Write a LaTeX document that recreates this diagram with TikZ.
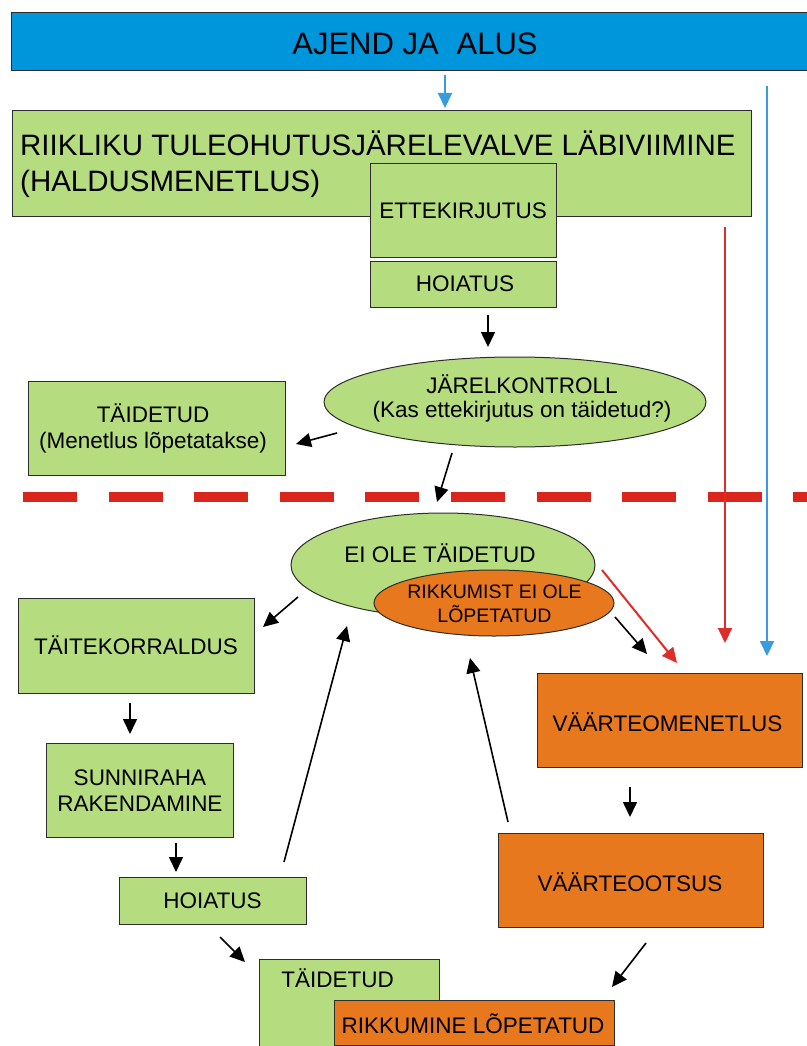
\documentclass[tikz,border=0pt]{standalone}
\usepackage{fontspec}
\setmainfont{Liberation Sans}
\usetikzlibrary{shapes.geometric,arrows.meta}
\definecolor{gfill}{RGB}{181,220,126}
\definecolor{ofill}{RGB}{232,120,30}
\definecolor{bfill}{RGB}{0,150,219}
\definecolor{dashred}{RGB}{218,37,29}
\definecolor{bline}{RGB}{55,155,222}
\definecolor{rline}{RGB}{222,45,40}
\definecolor{edge}{RGB}{45,45,45}
\begin{document}
\begin{tikzpicture}[x=1pt,y=-1pt,
  box/.style={draw=edge, line width=1pt, rectangle, inner sep=0pt, outer sep=0pt, anchor=north west},
  gbox/.style={box, fill=gfill},
  obox/.style={box, fill=ofill},
  ell/.style={draw=edge, line width=1pt, ellipse, inner sep=0pt, outer sep=0pt},
  txt/.style={inner sep=0pt, anchor=base, font=\fontsize{22.5}{27}\selectfont},
  bigtxt/.style={inner sep=0pt, font=\fontsize{29.5}{36}\selectfont},
  smalltxt/.style={txt, font=\fontsize{19.5}{23}\selectfont},
  arr/.style={-{Triangle[length=15pt,width=14pt]}, line width=1.6pt},
  barr/.style={arr, draw=bline, fill=bline, line width=2pt},
  rarr/.style={arr, draw=rline, fill=rline, line width=2pt}
]
\useasboundingbox (0,0) rectangle (806,1046);
\fill[white] (0,0) rectangle (806,1046);

% top bar
\node[box, fill=bfill, minimum width=810pt, minimum height=58pt] (ajend) at (11,13) {};
\node[bigtxt, anchor=base, font=\fontsize{31}{36}\selectfont] (tajend) at (415,55) {AJEND JA\hspace{0.3em} ALUS};

% big green box
\node[gbox, minimum width=739pt, minimum height=105pt] (big) at (12,111) {};
\node[bigtxt, anchor=base west] (tbig1) at (20,155) {RIIKLIKU TULEOHUTUSJÄRELEVALVE LÄBIVIIMINE};
\node[bigtxt, anchor=base west] (tbig2) at (20,191) {(HALDUSMENETLUS)};

\node[gbox, minimum width=186pt, minimum height=94pt] (ettek) at (370,163) {};
\node[txt] (tettek) at (463,218) {ETTEKIRJUTUS};
\node[gbox, minimum width=186pt, minimum height=46pt] (hoi1) at (370,261) {};
\node[txt] (thoi1) at (465,291) {HOIATUS};

% first check
\node[ell, fill=gfill, minimum width=382pt, minimum height=90pt] (kontroll) at (515,402) {};
\node[txt] (tkontroll1) at (522,393) {JÄRELKONTROLL};
\node[txt] (tkontroll2) at (522,417.5) {(Kas ettekirjutus on täidetud?)};

\node[gbox, minimum width=257pt, minimum height=94pt] (taid1) at (28,381) {};
\node[txt] (ttaid1a) at (153,422) {TÄIDETUD};
\node[txt] (ttaid1b) at (153,448) {(Menetlus lõpetatakse)};

% dashed separator
\coordinate (dl) at (23,497);
\coordinate (dr) at (820,497);
\draw[dashred, line width=10pt, dash pattern=on 54pt off 31.6pt] (dl) -- (dr);

% not fulfilled
\node[ell, fill=gfill, minimum width=304pt, minimum height=104pt] (eitaid) at (443,565) {};
\node[txt] (teitaid) at (440,562) {EI OLE TÄIDETUD};
\node[ell, fill=ofill, minimum width=240pt, minimum height=66pt] (rikk1) at (494,603) {};
\node[smalltxt] (trikk1a) at (494.5,598) {RIKKUMIST EI OLE};
\node[smalltxt] (trikk1b) at (494.5,622) {LÕPETATUD};

% left branch
\node[gbox, minimum width=236pt, minimum height=95pt] (taitek) at (18,598) {};
\node[txt] (ttaitek) at (136,654) {TÄITEKORRALDUS};
\node[gbox, minimum width=187pt, minimum height=94pt] (sunni) at (46,743) {};
\node[txt] (tsunni1) at (140,785) {SUNNIRAHA};
\node[txt] (tsunni2) at (140,811) {RAKENDAMINE};
\node[gbox, minimum width=187pt, minimum height=47pt] (hoi2) at (119,877) {};
\node[txt] (thoi2) at (212.5,908) {HOIATUS};

% right branch
\node[obox, minimum width=265pt, minimum height=94pt] (vmen) at (537,673) {};
\node[txt] (tvmen) at (667.5,731) {VÄÄRTEOMENETLUS};
\node[obox, minimum width=265pt, minimum height=94pt] (vots) at (498,833) {};
\node[txt] (tvots) at (630,891) {VÄÄRTEOOTSUS};

% bottom
\node[gbox, minimum width=180pt, minimum height=110pt] (taid2) at (259,959) {};
\node[txt] (ttaid2) at (337.5,987) {TÄIDETUD};
\node[obox, minimum width=280pt, minimum height=45pt] (rikk2) at (334,1000) {};
\node[txt] (trikk2) at (473,1033) {RIKKUMINE LÕPETATUD};

% connector end points
\coordinate (b1s) at (445,75);   \coordinate (b1e) at (445,108);
\coordinate (b2s) at (767,86);   \coordinate (b2e) at (767,656);
\coordinate (r1s) at (725,227);  \coordinate (r1e) at (725,643);
\coordinate (r2s) at (602,570);  \coordinate (r2e) at (677,663);
\coordinate (k1s) at (488,315);  \coordinate (k1e) at (488,347);
\coordinate (k2s) at (337,433);  \coordinate (k2e) at (296,444);
\coordinate (k3s) at (452,453);  \coordinate (k3e) at (437,502);
\coordinate (k4s) at (298,597);  \coordinate (k4e) at (263,627);
\coordinate (k5s) at (615,617);  \coordinate (k5e) at (647,654);
\coordinate (k6s) at (130,703);  \coordinate (k6e) at (130,734);
\coordinate (k7s) at (176,843);  \coordinate (k7e) at (176,872);
\coordinate (k8s) at (284,862);  \coordinate (k8e) at (347,626);
\coordinate (k9s) at (508,822);  \coordinate (k9e) at (470,658);
\coordinate (k10s) at (630,787); \coordinate (k10e) at (630,817);
\coordinate (k11s) at (220,937); \coordinate (k11e) at (245,962);
\coordinate (k12s) at (646,943); \coordinate (k12e) at (612,987);

\draw[barr] (b1s) -- (b1e);
\draw[barr] (b2s) -- (b2e);
\draw[rarr] (r1s) -- (r1e);
\draw[rarr] (r2s) -- (r2e);
\draw[arr] (k1s) -- (k1e);
\draw[arr] (k2s) -- (k2e);
\draw[arr] (k3s) -- (k3e);
\draw[arr] (k4s) -- (k4e);
\draw[arr] (k5s) -- (k5e);
\draw[arr] (k6s) -- (k6e);
\draw[arr] (k7s) -- (k7e);
\draw[arr] (k8s) -- (k8e);
\draw[arr] (k9s) -- (k9e);
\draw[arr] (k10s) -- (k10e);
\draw[arr] (k11s) -- (k11e);
\draw[arr] (k12s) -- (k12e);
\end{tikzpicture}
\end{document}
